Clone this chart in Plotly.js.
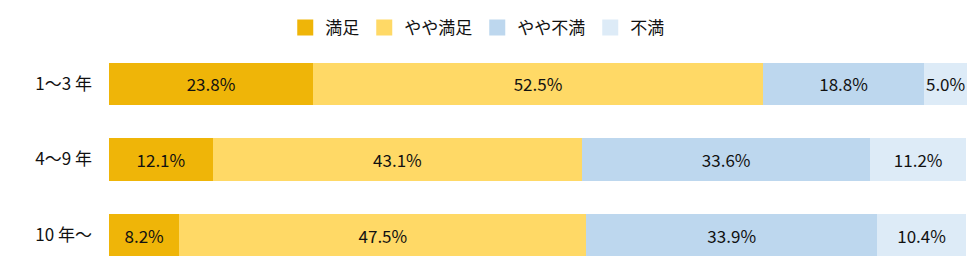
<!DOCTYPE html>
<html>
<head>
<meta charset="utf-8">
<script src="https://cdn.plot.ly/plotly-3.0.1.min.js"></script>
<style>html,body{margin:0;padding:0;background:#fff;}#chart{width:972px;height:280px;}</style>
</head>
<body>
<div id="chart"></div>
<script>
const categories = ["1〜3 年", "4〜9 年", "10 年〜"];
const seriesNames = ["満足", "やや満足", "やや不満", "不満"];
const manzoku = [23.8, 12.1, 8.2];
const yayaManzoku = [52.5, 43.1, 47.5];
const yayaFuman = [18.8, 33.6, 33.9];
const fuman = [5.0, 11.2, 10.4];
const colors = ["#EFB508", "#FFD966", "#BDD7EE", "#DDEBF7"];

const seriesValues = [manzoku, yayaManzoku, yayaFuman, fuman];
const font = "'Noto Sans CJK JP', 'Noto Sans', sans-serif";
const FS = 17;

const traces = seriesValues.map((vals, i) => ({
  type: "bar",
  orientation: "h",
  name: seriesNames[i],
  y: categories,
  x: vals,
  width: 0.56,
  showlegend: false,
  marker: { color: colors[i], line: { width: 0 } },
  text: vals.map(v => v.toFixed(1) + "%"),
  textposition: "inside",
  insidetextanchor: "middle",
  constraintext: "none",
  textfont: { family: font, size: FS, color: "#111" },
  hoverinfo: "none"
}));

// legend-only entries with larger square swatches
seriesNames.forEach((name, i) => {
  traces.push({
    type: "scatter",
    mode: "markers",
    name: name,
    x: [null],
    y: [null],
    showlegend: true,
    marker: { symbol: "square", size: 16, color: colors[i], line: { width: 0 } },
    hoverinfo: "none"
  });
});

const layout = {
  width: 972,
  height: 280,
  barmode: "stack",
  margin: { l: 109, r: 5, t: 42, b: 7 },
  paper_bgcolor: "#fff",
  plot_bgcolor: "#fff",
  font: { family: font, size: FS, color: "#111" },
  showlegend: true,
  legend: {
    orientation: "h",
    xref: "container",
    yref: "container",
    x: 0.491, xanchor: "center",
    y: 1 - 28 / 280, yanchor: "middle",
    font: { family: font, size: FS, color: "#111" },
    traceorder: "normal",
    itemgap: 14
  },
  xaxis: {
    range: [0, 100.1],
    showgrid: false, zeroline: false, showticklabels: false, showline: false, fixedrange: true
  },
  yaxis: {
    type: "category",
    autorange: "reversed",
    showgrid: false, zeroline: false, showline: false,
    ticks: "",
    ticklabelstandoff: 16,
    tickfont: { family: font, size: FS, color: "#111" }
  }
};

Plotly.newPlot("chart", traces, layout, { staticPlot: true, displayModeBar: false });
</script>
</body>
</html>
